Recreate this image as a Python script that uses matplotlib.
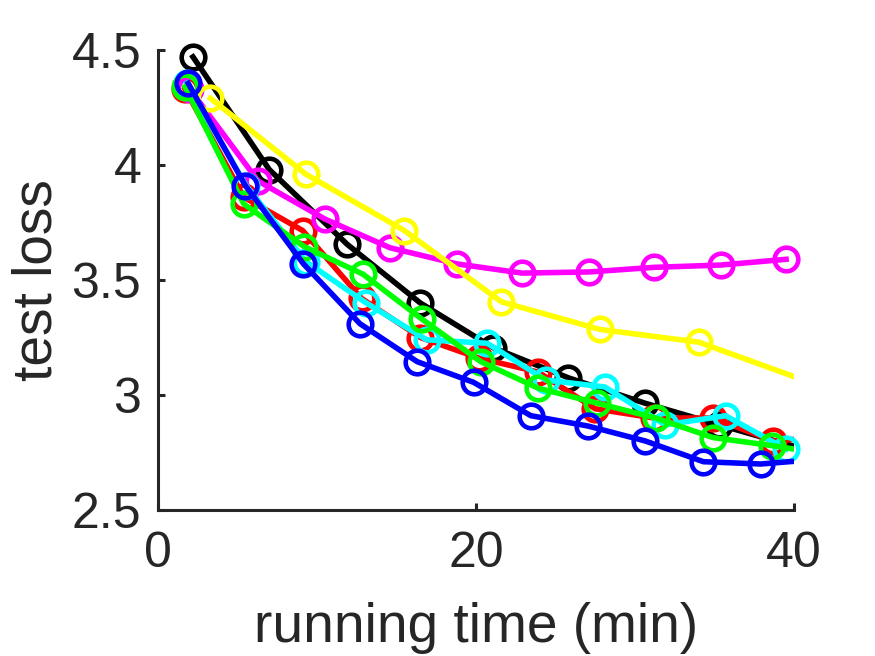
import matplotlib
matplotlib.use("Agg")
import matplotlib.pyplot as plt
from matplotlib.ticker import FuncFormatter

plt.rcParams['font.family'] = ['Liberation Sans', 'DejaVu Sans']

# Data; points beyond x=40 are clipped by the axes
black_x = [2.2, 7.0, 11.9, 16.5, 21.1, 25.8, 30.6, 35.3, 40.1]
black_y = [4.47, 3.98, 3.655, 3.40, 3.205, 3.075, 2.965, 2.87, 2.775]

red_x = [1.7, 5.4, 9.1, 12.8, 16.5, 20.2, 23.9, 27.5, 31.2, 34.9, 38.7, 42.4]
red_y = [4.33, 3.86, 3.715, 3.42, 3.25, 3.16, 3.10, 2.94, 2.90, 2.90, 2.80, 2.82]

magenta_x = [2.0, 6.3, 10.5, 14.6, 18.8, 22.9, 27.1, 31.2, 35.4, 39.5]
magenta_y = [4.33, 3.93, 3.765, 3.64, 3.57, 3.53, 3.535, 3.555, 3.565, 3.59]

yellow_x = [3.3, 9.3, 15.5, 21.6, 27.8, 34.0, 40.2]
yellow_y = [4.29, 3.96, 3.715, 3.405, 3.285, 3.23, 3.075]

cyan_x = [1.8, 5.55, 9.3, 13.1, 16.9, 20.7, 24.4, 28.1, 31.9, 35.7, 39.5]
cyan_y = [4.355, 3.91, 3.58, 3.40, 3.24, 3.225, 3.065, 3.035, 2.87, 2.91, 2.765]

green_x = [1.7, 5.4, 9.2, 12.9, 16.6, 20.3, 23.9, 27.6, 31.3, 34.9, 38.6, 42.3]
green_y = [4.34, 3.83, 3.645, 3.525, 3.33, 3.145, 3.03, 2.965, 2.90, 2.815, 2.78, 2.74]

blue_x = [1.9, 5.5, 9.15, 12.7, 16.3, 19.85, 23.45, 27.05, 30.65, 34.3, 37.9, 41.5]
blue_y = [4.355, 3.91, 3.57, 3.31, 3.145, 3.055, 2.91, 2.865, 2.80, 2.71, 2.70, 2.72]

series = [
    (black_x, black_y, '#000000'),
    (red_x, red_y, '#FF0000'),
    (magenta_x, magenta_y, '#FF00FF'),
    (yellow_x, yellow_y, '#FFFF00'),
    (cyan_x, cyan_y, '#00FFFF'),
    (green_x, green_y, '#00FF00'),
    (blue_x, blue_y, '#0000FF'),
]

x_ticks = [0, 20, 40]
y_ticks = [2.5, 3, 3.5, 4, 4.5]
x_max = 40

fig = plt.figure(figsize=(8.75, 6.56), dpi=100)
ax = fig.add_axes([158/875, 1 - 510/656, (794 - 158)/875, (510 - 50)/656])

for k, (xs, ys, c) in enumerate(series):
    z = 2 + k * 0.1
    ax.plot(xs, ys, '-', color=c, lw=4.0, clip_on=True, zorder=z)
    mx = [v for v in xs if v <= x_max]
    my = [ys[i] for i, v in enumerate(xs) if v <= x_max]
    ax.plot(mx, my, 'o', color=c, ms=17, mew=3.3, mfc='none',
            clip_on=False, zorder=z + 0.05)

ax.set_xlim(0, x_max)
ax.set_ylim(2.5, 4.5)
ax.set_xticks(x_ticks)
ax.set_yticks(y_ticks)
ax.yaxis.set_major_formatter(FuncFormatter(lambda v, p: '%g' % v))

dark = '#262626'
for s in ['top', 'right']:
    ax.spines[s].set_visible(False)
for s in ['left', 'bottom']:
    ax.spines[s].set_color(dark)
    ax.spines[s].set_linewidth(2.2)
ax.tick_params(direction='in', length=5, width=2.2, colors=dark, labelsize=36)
ax.tick_params(axis='y', pad=12)
ax.tick_params(axis='x', pad=15)

ax.set_xlabel('running time (min)', fontsize=39.6, color=dark, labelpad=18)
ax.set_ylabel('test loss', fontsize=39.6, color=dark, labelpad=6)

fig.savefig('out.png', dpi=100)
